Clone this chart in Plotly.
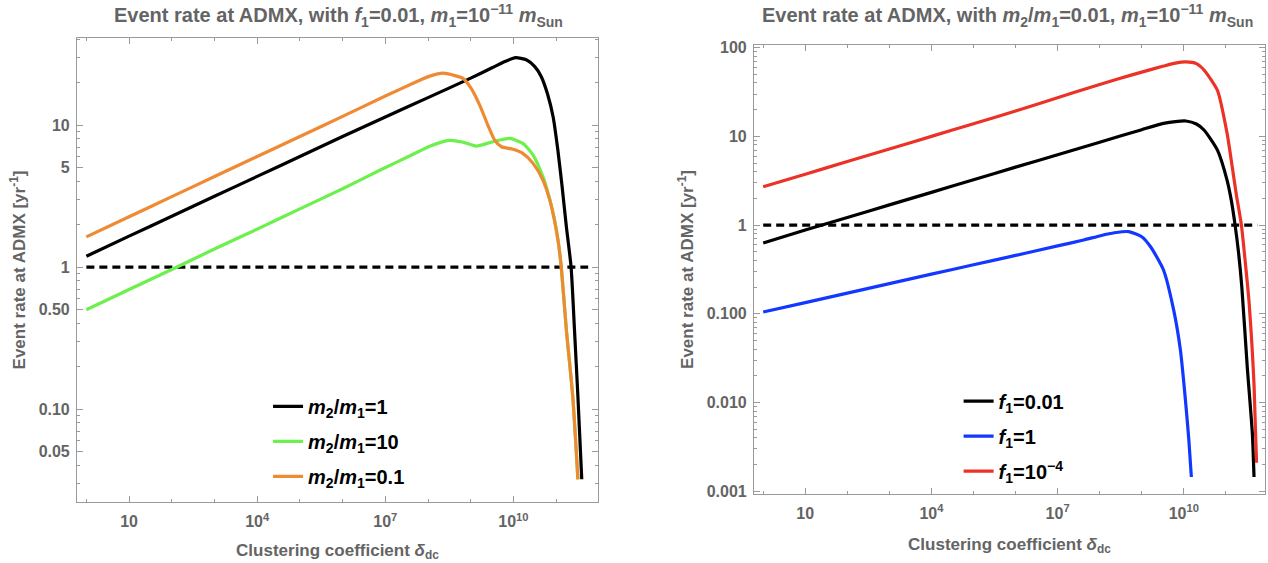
import plotly.graph_objects as go

# ---------------- data (log10 of clustering coefficient, event rate [1/yr]) ----------------
# Left panel: f1 = 0.01, m1 = 1e-11 mSun
left_black_logd = [0, 1, 2, 3, 4, 5, 6, 7, 8, 9, 9.5, 9.8, 10.05, 10.3, 10.5, 10.65, 10.8, 10.93, 11.04, 11.14, 11.24, 11.35, 11.43, 11.51, 11.6]
left_black_rate = [1.19, 1.65, 2.28, 3.15, 4.35, 6.0, 8.3, 11.4, 15.6, 21.4, 25.3, 28.0, 29.8, 28.8, 25.8, 22.0, 16.5, 11.4, 6.67, 3.68, 1.92, 1.0, 0.36, 0.122, 0.032]

left_green_logd = [0, 1, 2, 3, 4, 5, 6, 6.87, 7.64, 8.04, 8.5, 8.8, 9.13, 9.5, 9.91, 10.22, 10.46, 10.69, 10.85, 10.96, 11.05, 11.12, 11.24, 11.39, 11.51]
left_green_rate = [0.50, 0.695, 0.96, 1.34, 1.85, 2.57, 3.56, 4.8, 6.2, 7.1, 7.8, 7.6, 7.11, 7.6, 8.05, 7.43, 6.15, 4.33, 3.0, 2.16, 1.5, 1.0, 0.36, 0.122, 0.032]

left_orange_logd = [0, 1, 2, 3, 4, 5, 6, 7, 7.65, 8.04, 8.35, 8.58, 8.82, 9.01, 9.21, 9.4, 9.56, 9.72, 9.99, 10.22, 10.46, 10.69, 10.85, 10.96, 11.05, 11.12, 11.24, 11.39, 11.51]
left_orange_rate = [1.63, 2.26, 3.13, 4.34, 6.0, 8.3, 11.5, 16.0, 19.7, 22.1, 23.2, 22.5, 21.3, 18.1, 13.8, 10.0, 7.84, 7.03, 6.75, 6.32, 5.37, 4.1, 2.97, 2.14, 1.5, 1.0, 0.36, 0.122, 0.032]

# Right panel: m2/m1 = 0.01, m1 = 1e-11 mSun
right_black_logd = [0, 1, 2, 3, 4, 5, 6, 7, 8, 9, 9.52, 9.8, 10.05, 10.3, 10.48, 10.8, 11.03, 11.13, 11.22, 11.3, 11.38, 11.51, 11.63, 11.67]
right_black_rate = [0.63, 0.88, 1.22, 1.69, 2.34, 3.24, 4.5, 6.2, 8.6, 11.9, 14.0, 14.7, 14.9, 13.8, 11.8, 7.0, 3.2, 1.9, 1.0, 0.5, 0.2, 0.025, 0.0045, 0.00145]

right_blue_logd = [0, 1, 2, 3, 4, 5, 6, 7, 7.62, 8.02, 8.35, 8.69, 9.0, 9.21, 9.52, 9.76, 9.92, 10.04, 10.12, 10.18]
right_blue_rate = [0.105, 0.134, 0.171, 0.219, 0.28, 0.357, 0.456, 0.583, 0.68, 0.76, 0.82, 0.845, 0.74, 0.57, 0.31, 0.11, 0.039, 0.0106, 0.0038, 0.00145]

right_red_logd = [0, 1, 2, 3, 4, 5, 6, 6.83, 8, 8.41, 9, 9.52, 9.8, 10.05, 10.3, 10.48, 10.8, 11.03, 11.15, 11.25, 11.37, 11.47, 11.55, 11.62, 11.67, 11.73]
right_red_rate = [2.7, 3.75, 5.2, 7.2, 10.0, 13.9, 19.3, 25.7, 38.5, 44.0, 53.0, 62.0, 67.0, 69.0, 66.0, 56.0, 33.0, 10.8, 4.6, 2.2, 1.0, 0.35, 0.14, 0.045, 0.016, 0.0021]

threshold_logd = [0, 11.75]
threshold_rate = [1, 1]

left_names = ["<i>m</i><sub>2</sub>/<i>m</i><sub>1</sub>=1",
              "<i>m</i><sub>2</sub>/<i>m</i><sub>1</sub>=10",
              "<i>m</i><sub>2</sub>/<i>m</i><sub>1</sub>=0.1"]
right_names = ["<i>f</i><sub>1</sub>=0.01",
               "<i>f</i><sub>1</sub>=1",
               "<i>f</i><sub>1</sub>=10<sup>−4</sup>"]

x_tickvals = [10, 1e4, 1e7, 1e10]
x_ticktext = ["10", "10<sup>4</sup>", "10<sup>7</sup>", "10<sup>10</sup>"]
left_y_tickvals = [0.05, 0.1, 0.5, 1, 5, 10]
left_y_ticktext = ["0.05", "0.10", "0.50", "1", "5", "10"]
right_y_tickvals = [0.001, 0.01, 0.1, 1, 10, 100]
right_y_ticktext = ["0.001", "0.010", "0.100", "1", "10", "100"]

# ---------------- styling ----------------
FONT = "Liberation Sans, Arial, Helvetica, sans-serif"
GRAY = "#646464"
FRAME = "#9a9a9a"
BLACK = "#000000"
GREEN = "#6cf04c"
ORANGE = "#ef8a32"
BLUE = "#1238ff"
RED = "#ec3127"
LW = 3.2


def delta(logs):
    return [10 ** v for v in logs]


fig = go.Figure()


def add_curve(logd, rate, color, name, xa, ya, legend, group):
    fig.add_trace(go.Scatter(
        x=delta(logd), y=rate, mode="lines", name=name,
        line=dict(color=color, width=LW, shape="spline", smoothing=0.6),
        xaxis=xa, yaxis=ya, legend=legend, legendgroup=group,
        showlegend=name is not None, hoverinfo="skip"))


fig.add_trace(go.Scatter(x=delta(threshold_logd), y=threshold_rate, mode="lines",
                         line=dict(color=BLACK, width=3.2, dash="8px,5px"),
                         xaxis="x", yaxis="y", showlegend=False, hoverinfo="skip"))
add_curve(left_black_logd, left_black_rate, BLACK, left_names[0], "x", "y", "legend", "a")
add_curve(left_green_logd, left_green_rate, GREEN, left_names[1], "x", "y", "legend", "b")
add_curve(left_orange_logd, left_orange_rate, ORANGE, left_names[2], "x", "y", "legend", "c")

fig.add_trace(go.Scatter(x=delta(threshold_logd), y=threshold_rate, mode="lines",
                         line=dict(color=BLACK, width=3.2, dash="8px,5px"),
                         xaxis="x2", yaxis="y2", showlegend=False, hoverinfo="skip"))
add_curve(right_black_logd, right_black_rate, BLACK, right_names[0], "x2", "y2", "legend2", "d")
add_curve(right_blue_logd, right_blue_rate, BLUE, right_names[1], "x2", "y2", "legend2", "e")
add_curve(right_red_logd, right_red_rate, RED, right_names[2], "x2", "y2", "legend2", "f")


def minor_between(lo, hi):
    vals = []
    d = lo
    while d < hi:
        for m in range(2, 10):
            v = m * d
            if lo < v < hi:
                vals.append(v)
        d *= 10
    return vals


x_minor = [10 ** k for k in range(0, 12) if 10 ** k not in x_tickvals]
left_y_minor = [v for v in minor_between(0.01, 50) if round(v, 6) not in left_y_tickvals]
right_y_minor = minor_between(0.001, 110)

tickfont = dict(family=FONT, size=16, color=GRAY, weight="bold")
titlefont = dict(family=FONT, size=17, color=GRAY, weight="bold")


def xaxis(domain, rng, anchor, standoff):
    return dict(type="log", domain=domain, range=rng, anchor=anchor, automargin=False,
                tickmode="array", tickvals=x_tickvals, ticktext=x_ticktext,
                ticks="inside", ticklen=6, tickcolor=FRAME, tickwidth=1,
                ticklabelstandoff=5,
                minor=dict(tickmode="array", tickvals=x_minor, ticks="inside", ticklen=3,
                           tickcolor=FRAME, tickwidth=1, showgrid=False),
                showline=True, linecolor=FRAME, linewidth=1, mirror="allticks",
                showgrid=False, zeroline=False, tickfont=tickfont,
                title=dict(text="Clustering coefficient <i>δ</i><sub>dc</sub>", font=titlefont, standoff=standoff))


def yaxis(domain, rng, anchor, tv, tt, minor):
    return dict(type="log", domain=domain, range=rng, anchor=anchor, automargin=False,
                tickmode="array", tickvals=tv, ticktext=tt,
                ticks="inside", ticklen=6, tickcolor=FRAME, tickwidth=1,
                ticklabelstandoff=3,
                minor=dict(tickmode="array", tickvals=minor, ticks="inside", ticklen=3,
                           tickcolor=FRAME, tickwidth=1, showgrid=False),
                showline=True, linecolor=FRAME, linewidth=1, mirror="allticks",
                showgrid=False, zeroline=False, tickfont=tickfont,
                title=dict(text="Event rate at ADMX [yr<sup>-1</sup>]", font=titlefont, standoff=8))


legend_font = dict(family=FONT, size=20, color=BLACK, weight="bold")

fig.update_layout(
    width=1268, height=563,
    paper_bgcolor="white", plot_bgcolor="white",
    margin=dict(l=0, r=0, t=0, b=0),
    font=dict(family=FONT),
    xaxis=xaxis([0.0607, 0.4716], [-0.22, 11.98], "y", 14),
    yaxis=yaxis([0.1083, 0.9325], [-1.655, 1.613], "x", left_y_tickvals, left_y_ticktext, left_y_minor),
    xaxis2=xaxis([0.5946, 0.9976], [-0.22, 11.93], "y2", 16),
    yaxis2=yaxis([0.1226, 0.9201], [-3.03, 2.03], "x2", right_y_tickvals, right_y_ticktext, right_y_minor),
    legend=dict(x=0.2114, y=0.313, xanchor="left", yanchor="top", font=legend_font,
                bgcolor="rgba(0,0,0,0)", tracegroupgap=6, itemwidth=30),
    legend2=dict(x=0.756, y=0.322, xanchor="left", yanchor="top", font=legend_font,
                 bgcolor="rgba(0,0,0,0)", tracegroupgap=6, itemwidth=30),
    annotations=[
        dict(text="Event rate at ADMX, with <i>f</i><sub>1</sub>=0.01, <i>m</i><sub>1</sub>=10<sup>−11</sup> <i>m</i><sub>Sun</sub>",
             x=0.2666, y=1 - 16 / 563, xref="paper", yref="paper", showarrow=False,
             xanchor="center", yanchor="middle",
             font=dict(family=FONT, size=20, color=GRAY, weight="bold")),
        dict(text="Event rate at ADMX, with <i>m</i><sub>2</sub>/<i>m</i><sub>1</sub>=0.01, <i>m</i><sub>1</sub>=10<sup>−11</sup> <i>m</i><sub>Sun</sub>",
             x=0.7945, y=1 - 16 / 563, xref="paper", yref="paper", showarrow=False,
             xanchor="center", yanchor="middle",
             font=dict(family=FONT, size=20, color=GRAY, weight="bold")),
    ],
)

fig.write_html("out.html", config={"displayModeBar": False},
               post_script="document.body.style.margin='0px';document.body.style.overflow='hidden';")
